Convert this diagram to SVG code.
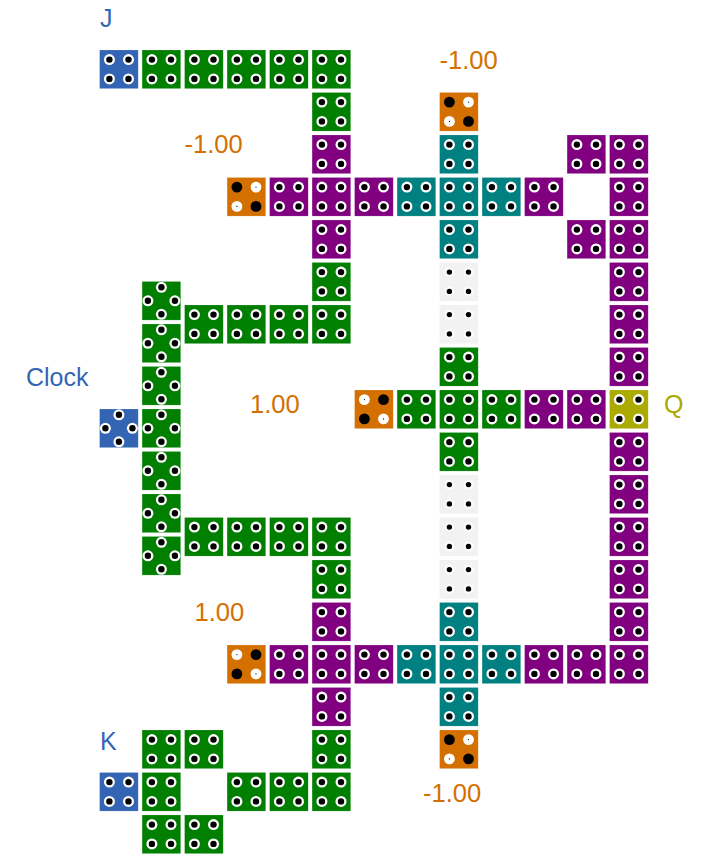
<svg xmlns="http://www.w3.org/2000/svg" width="707" height="866" viewBox="0 0 707 866">
<style>
.c{stroke:#fff;stroke-opacity:.25;stroke-width:.6}
.b{fill:#3465b4}.g{fill:#007f00}.p{fill:#800080}.t{fill:#008080}.o{fill:#d47000}.y{fill:#aaaa00}.e{fill:#f2f2f2}
.w{fill:#fff}.k{fill:#000}
text{font-family:"Liberation Sans",Arial,sans-serif;font-size:25px}
.lb{fill:#3465b4}.lo{fill:#d47000;font-size:25.6px}.ly{fill:#aaaa00}
</style>
<defs>
<rect id="r" width="38.6" height="38.6"/>
<g id="ring"><circle r="5.5" class="w"/><circle r="3.2" class="k"/></g>
<g id="ghost"><circle r="5" fill="#fff" fill-opacity=".75"/><circle r="2.7" class="k"/></g>
<g id="bd"><circle r="5.4" class="k"/></g>
<g id="wd"><circle r="5.4" class="w"/><circle r=".6" class="k"/></g>
<g id="S"><use href="#ring" x="9.8" y="9.6"/><use href="#ring" x="28.9" y="9.6"/><use href="#ring" x="9.8" y="28.9"/><use href="#ring" x="28.9" y="28.9"/></g>
<g id="D"><use href="#ring" x="19.3" y="5.8"/><use href="#ring" x="5.8" y="19.3"/><use href="#ring" x="32.8" y="19.3"/><use href="#ring" x="19.3" y="32.8"/></g>
<g id="G"><use href="#ghost" x="9.8" y="9.6"/><use href="#ghost" x="28.9" y="9.6"/><use href="#ghost" x="9.8" y="28.9"/><use href="#ghost" x="28.9" y="28.9"/></g>
<g id="N"><use href="#bd" x="9.8" y="9.6"/><use href="#wd" x="28.9" y="9.6"/><use href="#wd" x="9.8" y="28.9"/><use href="#bd" x="28.9" y="28.9"/></g>
<g id="P"><use href="#wd" x="9.8" y="9.6"/><use href="#bd" x="28.9" y="9.6"/><use href="#bd" x="9.8" y="28.9"/><use href="#wd" x="28.9" y="28.9"/></g>
</defs>
<rect width="707" height="866" fill="#fff"/>
<g id="connectors"/>
<g id="n0_0" transform="translate(99.6 50)"><use href="#r" class="c b"/><use href="#S"/></g>
<g id="n0_1" transform="translate(142.1 50)"><use href="#r" class="c g"/><use href="#S"/></g>
<g id="n0_2" transform="translate(184.6 50)"><use href="#r" class="c g"/><use href="#S"/></g>
<g id="n0_3" transform="translate(227.1 50)"><use href="#r" class="c g"/><use href="#S"/></g>
<g id="n0_4" transform="translate(269.6 50)"><use href="#r" class="c g"/><use href="#S"/></g>
<g id="n0_5" transform="translate(312.1 50)"><use href="#r" class="c g"/><use href="#S"/></g>
<g id="n1_5" transform="translate(312.1 92.5)"><use href="#r" class="c g"/><use href="#S"/></g>
<g id="n1_8" transform="translate(439.6 92.5)"><use href="#r" class="c o"/><use href="#N"/></g>
<g id="n2_5" transform="translate(312.1 135)"><use href="#r" class="c p"/><use href="#S"/></g>
<g id="n2_8" transform="translate(439.6 135)"><use href="#r" class="c t"/><use href="#S"/></g>
<g id="n2_11" transform="translate(567.1 135)"><use href="#r" class="c p"/><use href="#S"/></g>
<g id="n2_12" transform="translate(609.6 135)"><use href="#r" class="c p"/><use href="#S"/></g>
<g id="n3_3" transform="translate(227.1 177.5)"><use href="#r" class="c o"/><use href="#N"/></g>
<g id="n3_4" transform="translate(269.6 177.5)"><use href="#r" class="c p"/><use href="#S"/></g>
<g id="n3_5" transform="translate(312.1 177.5)"><use href="#r" class="c p"/><use href="#S"/></g>
<g id="n3_6" transform="translate(354.6 177.5)"><use href="#r" class="c p"/><use href="#S"/></g>
<g id="n3_7" transform="translate(397.1 177.5)"><use href="#r" class="c t"/><use href="#S"/></g>
<g id="n3_8" transform="translate(439.6 177.5)"><use href="#r" class="c t"/><use href="#S"/></g>
<g id="n3_9" transform="translate(482.1 177.5)"><use href="#r" class="c t"/><use href="#S"/></g>
<g id="n3_10" transform="translate(524.6 177.5)"><use href="#r" class="c p"/><use href="#S"/></g>
<g id="n3_12" transform="translate(609.6 177.5)"><use href="#r" class="c p"/><use href="#S"/></g>
<g id="n4_5" transform="translate(312.1 220)"><use href="#r" class="c p"/><use href="#S"/></g>
<g id="n4_8" transform="translate(439.6 220)"><use href="#r" class="c t"/><use href="#S"/></g>
<g id="n4_11" transform="translate(567.1 220)"><use href="#r" class="c p"/><use href="#S"/></g>
<g id="n4_12" transform="translate(609.6 220)"><use href="#r" class="c p"/><use href="#S"/></g>
<g id="n5_5" transform="translate(312.1 262.5)"><use href="#r" class="c g"/><use href="#S"/></g>
<g id="n5_8" transform="translate(439.6 262.5)"><use href="#r" class="e"/><use href="#G"/></g>
<g id="n5_12" transform="translate(609.6 262.5)"><use href="#r" class="c p"/><use href="#S"/></g>
<g id="n6_2" transform="translate(184.6 305)"><use href="#r" class="c g"/><use href="#S"/></g>
<g id="n6_3" transform="translate(227.1 305)"><use href="#r" class="c g"/><use href="#S"/></g>
<g id="n6_4" transform="translate(269.6 305)"><use href="#r" class="c g"/><use href="#S"/></g>
<g id="n6_5" transform="translate(312.1 305)"><use href="#r" class="c g"/><use href="#S"/></g>
<g id="n6_8" transform="translate(439.6 305)"><use href="#r" class="e"/><use href="#G"/></g>
<g id="n6_12" transform="translate(609.6 305)"><use href="#r" class="c p"/><use href="#S"/></g>
<g id="n7_8" transform="translate(439.6 347.5)"><use href="#r" class="c g"/><use href="#S"/></g>
<g id="n7_12" transform="translate(609.6 347.5)"><use href="#r" class="c p"/><use href="#S"/></g>
<g id="n8_6" transform="translate(354.6 390)"><use href="#r" class="c o"/><use href="#P"/></g>
<g id="n8_7" transform="translate(397.1 390)"><use href="#r" class="c g"/><use href="#S"/></g>
<g id="n8_8" transform="translate(439.6 390)"><use href="#r" class="c g"/><use href="#S"/></g>
<g id="n8_9" transform="translate(482.1 390)"><use href="#r" class="c g"/><use href="#S"/></g>
<g id="n8_10" transform="translate(524.6 390)"><use href="#r" class="c p"/><use href="#S"/></g>
<g id="n8_11" transform="translate(567.1 390)"><use href="#r" class="c p"/><use href="#S"/></g>
<g id="n8_12" transform="translate(609.6 390)"><use href="#r" class="c y"/><use href="#S"/></g>
<g id="n9_8" transform="translate(439.6 432.5)"><use href="#r" class="c g"/><use href="#S"/></g>
<g id="n9_12" transform="translate(609.6 432.5)"><use href="#r" class="c p"/><use href="#S"/></g>
<g id="n10_8" transform="translate(439.6 475)"><use href="#r" class="e"/><use href="#G"/></g>
<g id="n10_12" transform="translate(609.6 475)"><use href="#r" class="c p"/><use href="#S"/></g>
<g id="n11_2" transform="translate(184.6 517.5)"><use href="#r" class="c g"/><use href="#S"/></g>
<g id="n11_3" transform="translate(227.1 517.5)"><use href="#r" class="c g"/><use href="#S"/></g>
<g id="n11_4" transform="translate(269.6 517.5)"><use href="#r" class="c g"/><use href="#S"/></g>
<g id="n11_5" transform="translate(312.1 517.5)"><use href="#r" class="c g"/><use href="#S"/></g>
<g id="n11_8" transform="translate(439.6 517.5)"><use href="#r" class="e"/><use href="#G"/></g>
<g id="n11_12" transform="translate(609.6 517.5)"><use href="#r" class="c p"/><use href="#S"/></g>
<g id="n12_5" transform="translate(312.1 560)"><use href="#r" class="c g"/><use href="#S"/></g>
<g id="n12_8" transform="translate(439.6 560)"><use href="#r" class="e"/><use href="#G"/></g>
<g id="n12_12" transform="translate(609.6 560)"><use href="#r" class="c p"/><use href="#S"/></g>
<g id="n13_5" transform="translate(312.1 602.5)"><use href="#r" class="c p"/><use href="#S"/></g>
<g id="n13_8" transform="translate(439.6 602.5)"><use href="#r" class="c t"/><use href="#S"/></g>
<g id="n13_12" transform="translate(609.6 602.5)"><use href="#r" class="c p"/><use href="#S"/></g>
<g id="n14_3" transform="translate(227.1 645)"><use href="#r" class="c o"/><use href="#P"/></g>
<g id="n14_4" transform="translate(269.6 645)"><use href="#r" class="c p"/><use href="#S"/></g>
<g id="n14_5" transform="translate(312.1 645)"><use href="#r" class="c p"/><use href="#S"/></g>
<g id="n14_6" transform="translate(354.6 645)"><use href="#r" class="c p"/><use href="#S"/></g>
<g id="n14_7" transform="translate(397.1 645)"><use href="#r" class="c t"/><use href="#S"/></g>
<g id="n14_8" transform="translate(439.6 645)"><use href="#r" class="c t"/><use href="#S"/></g>
<g id="n14_9" transform="translate(482.1 645)"><use href="#r" class="c t"/><use href="#S"/></g>
<g id="n14_10" transform="translate(524.6 645)"><use href="#r" class="c p"/><use href="#S"/></g>
<g id="n14_11" transform="translate(567.1 645)"><use href="#r" class="c p"/><use href="#S"/></g>
<g id="n14_12" transform="translate(609.6 645)"><use href="#r" class="c p"/><use href="#S"/></g>
<g id="n15_5" transform="translate(312.1 687.5)"><use href="#r" class="c p"/><use href="#S"/></g>
<g id="n15_8" transform="translate(439.6 687.5)"><use href="#r" class="c t"/><use href="#S"/></g>
<g id="n16_1" transform="translate(142.1 730)"><use href="#r" class="c g"/><use href="#S"/></g>
<g id="n16_2" transform="translate(184.6 730)"><use href="#r" class="c g"/><use href="#S"/></g>
<g id="n16_5" transform="translate(312.1 730)"><use href="#r" class="c g"/><use href="#S"/></g>
<g id="n16_8" transform="translate(439.6 730)"><use href="#r" class="c o"/><use href="#N"/></g>
<g id="n17_0" transform="translate(99.6 772.5)"><use href="#r" class="c b"/><use href="#S"/></g>
<g id="n17_1" transform="translate(142.1 772.5)"><use href="#r" class="c g"/><use href="#S"/></g>
<g id="n17_3" transform="translate(227.1 772.5)"><use href="#r" class="c g"/><use href="#S"/></g>
<g id="n17_4" transform="translate(269.6 772.5)"><use href="#r" class="c g"/><use href="#S"/></g>
<g id="n17_5" transform="translate(312.1 772.5)"><use href="#r" class="c g"/><use href="#S"/></g>
<g id="n18_1" transform="translate(142.1 815)"><use href="#r" class="c g"/><use href="#S"/></g>
<g id="n18_2" transform="translate(184.6 815)"><use href="#r" class="c g"/><use href="#S"/></g>
<g id="clock" transform="translate(99.6 409)"><use href="#r" class="c b"/><use href="#D"/></g>
<g id="d1" transform="translate(142.1 281.5)"><use href="#r" class="c g"/><use href="#D"/></g>
<g id="d2" transform="translate(142.1 324)"><use href="#r" class="c g"/><use href="#D"/></g>
<g id="d3" transform="translate(142.1 366.5)"><use href="#r" class="c g"/><use href="#D"/></g>
<g id="d4" transform="translate(142.1 409)"><use href="#r" class="c g"/><use href="#D"/></g>
<g id="d5" transform="translate(142.1 451.5)"><use href="#r" class="c g"/><use href="#D"/></g>
<g id="d6" transform="translate(142.1 494)"><use href="#r" class="c g"/><use href="#D"/></g>
<g id="d7" transform="translate(142.1 536.5)"><use href="#r" class="c g"/><use href="#D"/></g>
<g id="labels">
<text class="lb" x="100" y="27">J</text>
<text class="lb" x="26" y="386">Clock</text>
<text class="lb" x="100" y="750">K</text>
<text class="ly" x="664" y="413">Q</text>
<text class="lo" x="439.5" y="69">-1.00</text>
<text class="lo" x="184.5" y="153">-1.00</text>
<text class="lo" x="250" y="413">1.00</text>
<text class="lo" x="194.5" y="621">1.00</text>
<text class="lo" x="423" y="802">-1.00</text>
</g>
</svg>
